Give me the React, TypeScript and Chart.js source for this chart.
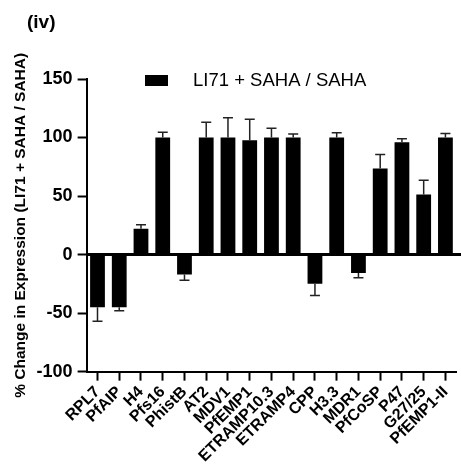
import React, { useEffect, useRef } from "react";
import { Chart, registerables } from "chart.js";

Chart.register(...registerables);

const categories = ["RPL7", "PfAIP", "H4", "Pfs16", "PhistB", "AT2", "MDV1", "PfEMP1", "ETRAMP10.3", "ETRAMP4", "CPP", "H3.3", "MDR1", "PfCoSP", "P47", "G27/25", "PfEMP1-II"];
const values = [-45, -45, 22, 100, -17, 100, 100, 97.6, 100, 100, -25, 100, -15.7, 73.6, 95.9, 51.4, 100];
const errors = [12, 3, 3.5, 4.5, 5, 13, 17, 18, 8, 3, 10, 4, 4, 12, 3, 12, 3.5];
const yTicks = [-100, -50, 0, 50, 100, 150];
const seriesLabel = "LI71 + SAHA / SAHA";
const panelTitle = "(iv)";
const yTitle = "% Change in Expression (LI71 + SAHA / SAHA)";

const FONT = "'Liberation Sans', Arial, Helvetica, sans-serif";

const extrasPlugin = {
  id: "extras",
  beforeDatasetsDraw(chart: any) {
    const ctx = chart.ctx;
    const y = chart.scales.y.getPixelForValue(0);
    const area = chart.chartArea;
    ctx.save();
    ctx.strokeStyle = "#000";
    ctx.lineWidth = 3;
    ctx.beginPath();
    ctx.moveTo(area.left, y);
    ctx.lineTo(chart.width, y);
    ctx.stroke();
    ctx.restore();
  },
  afterDatasetsDraw(chart: any) {
    const ctx = chart.ctx;
    const meta = chart.getDatasetMeta(0);
    const ys = chart.scales.y;
    ctx.save();
    ctx.strokeStyle = "#222";
    ctx.lineWidth = 1.5;
    meta.data.forEach((bar: any, i: number) => {
      const v = values[i];
      const e = errors[i];
      const end = v >= 0 ? v + e : v - e;
      const y0 = ys.getPixelForValue(v);
      const y1 = ys.getPixelForValue(end);
      ctx.beginPath();
      ctx.moveTo(bar.x, y0);
      ctx.lineTo(bar.x, y1);
      ctx.moveTo(bar.x - 5, y1);
      ctx.lineTo(bar.x + 5, y1);
      ctx.stroke();
    });
    ctx.restore();
  },
  afterDraw(chart: any) {
    const ctx = chart.ctx;
    ctx.save();
    ctx.fillStyle = "#000";
    ctx.font = `bold 19px ${FONT}`;
    ctx.textBaseline = "middle";
    ctx.textAlign = "left";
    ctx.fillText(panelTitle, 27, 23);
    ctx.fillRect(145, 75, 23, 11);
    ctx.font = `18.5px ${FONT}`;
    ctx.fillText(seriesLabel, 193, 81);
    ctx.restore();
  },
};

export default function App() {
  const ref = useRef<HTMLCanvasElement>(null);
  useEffect(() => {
    document.body.style.margin = "0";
    const chart = new Chart(ref.current!, {
      type: "bar",
      data: {
        labels: categories,
        datasets: [
          {
            label: seriesLabel,
            data: values,
            backgroundColor: "#000",
            borderColor: "#000",
            borderWidth: 0,
            barPercentage: 0.68,
            categoryPercentage: 1,
          },
        ],
      },
      options: {
        responsive: false,
        animation: false,
        layout: { padding: { top: 79, left: 8, right: 0, bottom: -3 } },
        plugins: {
          legend: { display: false },
          title: { display: false },
          tooltip: { enabled: false },
        },
        scales: {
          x: {
            offset: true,
            grid: {
              offset: false,
              drawOnChartArea: false,
              drawTicks: true,
              tickLength: 9,
              tickColor: "#000",
              tickWidth: 2,
            },
            border: { color: "#000", width: 2 },
            ticks: {
              autoSkip: false,
              maxRotation: 45,
              minRotation: 45,
              color: "#000",
              padding: 2,
              font: { family: FONT, size: 16, weight: "bold" },
            },
          },
          y: {
            min: -100,
            max: 150,
            afterBuildTicks(scale: any) {
              scale.ticks = yTicks.map((v) => ({ value: v }));
            },
            grid: {
              drawOnChartArea: false,
              drawTicks: true,
              tickLength: 9,
              tickColor: "#000",
              tickWidth: 2,
            },
            border: { color: "#000", width: 2 },
            ticks: {
              color: "#000",
              padding: 5,
              font: { family: FONT, size: 18, weight: "bold" },
            },
            title: {
              display: true,
              text: yTitle,
              color: "#000",
              padding: { top: 3, bottom: 2 },
              font: { family: FONT, size: 15.5, weight: "bold" },
            },
          },
        },
      },
      plugins: [extrasPlugin],
    });
    return () => chart.destroy();
  }, []);
  return (
    <div style={{ position: "absolute", left: 0, top: 0, width: 461, height: 465 }}>
      <canvas ref={ref} width={461} height={465} style={{ display: "block" }} />
    </div>
  );
}
